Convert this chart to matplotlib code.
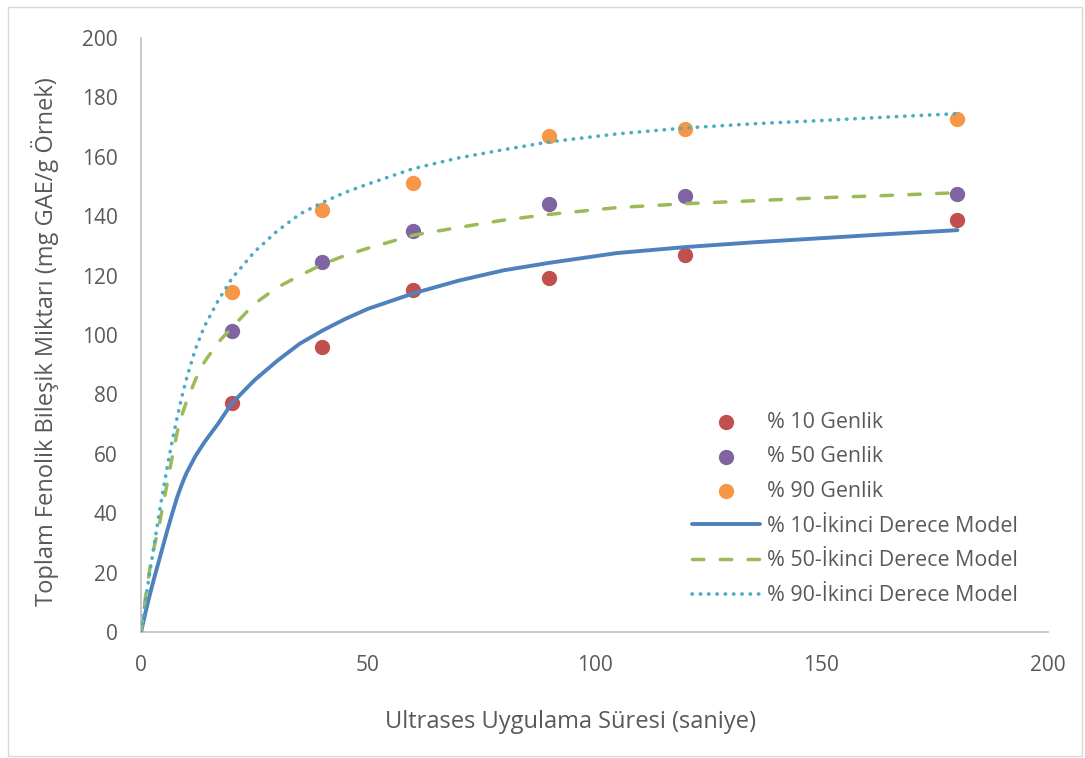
import matplotlib.pyplot as plt
from matplotlib.patches import Rectangle

plt.rcParams['font.family'] = ['Open Sans', 'DejaVu Sans']

# ölçüm noktaları
sure = [20, 40, 60, 90, 120, 180]
genlik_10 = [77.0, 96.0, 115.2, 119.2, 127.1, 138.6]
genlik_50 = [101.4, 124.6, 134.9, 144.1, 146.7, 147.3]
genlik_90 = [114.6, 142.2, 151.3, 166.9, 169.5, 172.7]

# model eğrileri
model_x = [0, 1, 2, 3, 4, 5, 6, 7, 8, 9, 10, 12, 14, 17, 20, 25, 30, 35, 40, 45, 50,
           60, 70, 80, 90, 105, 120, 135, 150, 165, 180]
model_10 = [0, 6.8, 13.0, 18.8, 24.3, 29.9, 35.4, 40.6, 45.6, 49.8, 53.5, 59.3, 64.0,
            70.2, 77.0, 84.8, 91.3, 97.1, 101.5, 105.4, 108.8, 114.0, 118.3, 121.8,
            124.3, 127.6, 129.6, 131.2, 132.6, 134.0, 135.3]
model_50 = [0, 12.0, 22.0, 29.5, 36.0, 44.0, 52.0, 60.0, 67.5, 73.0, 77.5, 85.0, 91.0,
            97.5, 102.5, 110.5, 116.0, 120.0, 123.8, 126.8, 129.2, 133.6, 136.2, 138.7,
            140.6, 142.9, 144.2, 145.2, 146.2, 147.0, 147.9]
model_90 = [0, 10.8, 20.8, 30.5, 40.0, 49.0, 57.5, 65.3, 72.5, 79.2, 85.2, 95.4, 103.0,
            111.6, 119.0, 128.0, 135.0, 140.7, 144.6, 148.0, 150.8, 156.0, 159.6, 162.4,
            165.0, 167.7, 169.7, 171.1, 172.2, 173.4, 174.5]

fig = plt.figure(figsize=(10.85, 7.58), dpi=100)
ax = fig.add_axes([0.130, 0.166, 0.836, 0.784])

ax.scatter(sure, genlik_10, s=100, color='#C0504D', label='% 10 Genlik', zorder=3)
ax.scatter(sure, genlik_50, s=100, color='#8064A2', label='% 50 Genlik', zorder=3)
ax.scatter(sure, genlik_90, s=100, color='#F79646', label='% 90 Genlik', zorder=3)

ax.plot(model_x, model_10, color='#4F81BD', lw=2.8, solid_capstyle='round',
        solid_joinstyle='round', label='% 10-İkinci Derece Model', zorder=4)
ax.plot(model_x, model_50, color='#9BBB59', lw=2.5, dashes=(3.3, 4.7), dash_capstyle='round',
        label='% 50-İkinci Derece Model', zorder=4)
ax.plot(model_x, model_90, color='#4BACC6', lw=2.6, dashes=(0.1, 2.2), dash_capstyle='round',
        label='% 90-İkinci Derece Model', zorder=4)

ax.set_xlim(0, 200)
ax.set_ylim(0, 200)
ax.set_xticks(range(0, 201, 50))
ax.set_yticks(range(0, 201, 20))
for s in ['top', 'right']:
    ax.spines[s].set_visible(False)
for s in ['left', 'bottom']:
    ax.spines[s].set_color('#BFBFBF')
    ax.spines[s].set_linewidth(1.2)
ax.tick_params(length=0, labelsize=15, colors='#595959')
ax.tick_params(axis='y', pad=17)
ax.tick_params(axis='x', pad=16.5)

ax.set_xlabel('Ultrases Uygulama Süresi (saniye)', fontsize=17, color='#595959')
ax.set_ylabel('Toplam Fenolik Bileşik Miktarı (mg GAE/g Örnek)', fontsize=17,
              color='#595959')
ax.xaxis.set_label_coords(0.473, -0.1515)
ax.xaxis.label.set_va('center')
ax.yaxis.set_label_coords(-0.106, 0.489)
ax.yaxis.label.set_va('center')

leg = ax.legend(loc='upper left', bbox_to_anchor=(0.607, 0.371), frameon=False,
                fontsize=15.4, labelspacing=0.64, handlelength=3.2, handletextpad=0.33,
                borderaxespad=0, borderpad=0)
for t in leg.get_texts():
    t.set_color('#595959')

# dış çerçeve
fig.patches.append(Rectangle((0.007, 0.003), 0.990, 0.988, transform=fig.transFigure,
                             fill=False, edgecolor='#D9D9D9', lw=1))

fig.savefig('out.png', dpi=100)
